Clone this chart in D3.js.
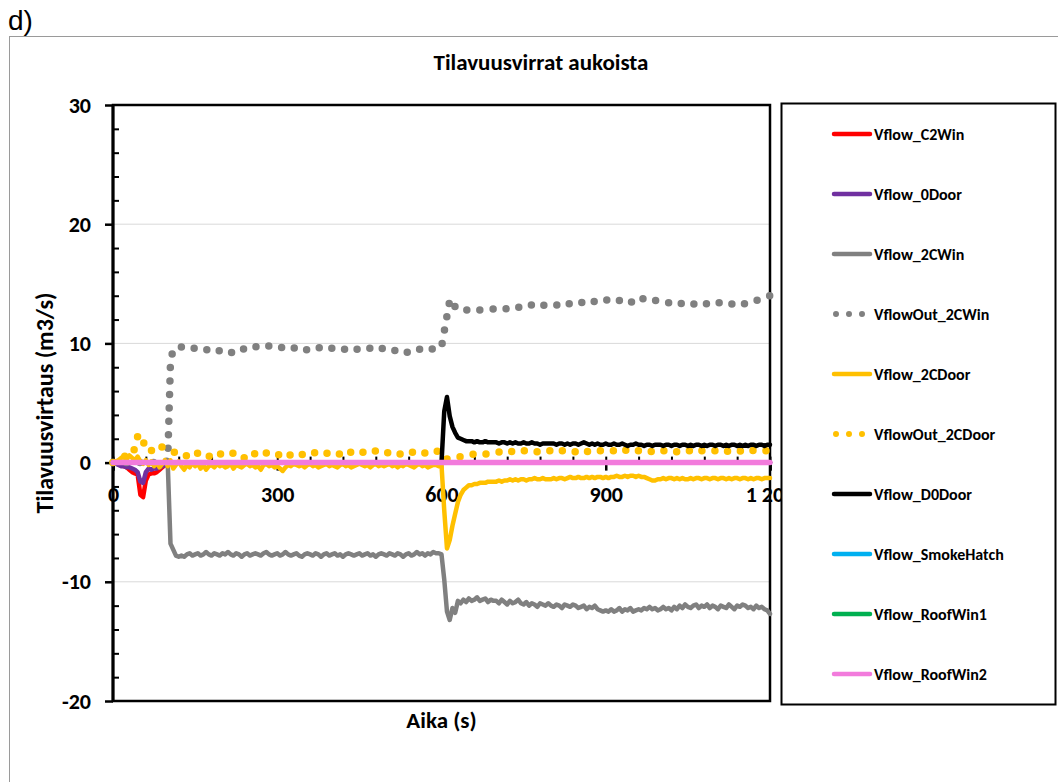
<!DOCTYPE html>
<html><head><meta charset="utf-8">
<script src="https://cdn.jsdelivr.net/npm/d3@7"></script>
<style>
body{margin:0;background:#fff}
svg{display:block}
text{font-family:Carlito, Lato, "Open Sans", sans-serif}
</style>
</head><body>
<svg id="chart" width="1058" height="782"></svg>
<script>
// ---------------- DATA ----------------
const chartTitle = "Tilavuusvirrat aukoista";
const xTitle = "Aika (s)";
const yTitle = "Tilavuusvirtaus (m3/s)";
const yTicks = [-20, -10, 0, 10, 20, 30];
const xTicks = [0, 300, 600, 900, 1200];
const xTickLabels = ["0", "300", "600", "900", "1 200"];

// sampling time (s) for the main series: every 5 s from 0 to 1200
const timeSec = d3.range(0, 1201, 5);
// time for the series that are only non-zero at the start
const earlyTime = [0,5,10,15,20,25,30,35,40,45,50,55,60,65,70,75,80,85,90,95,100,105,110,115,120,125,130,135,140,145,150,1200];
// time for series that stay at zero
const flatTime = [0, 1200];

const vflowC2Win = [0,0,-0.1,-0.2,-0.3,-0.4,-0.6,-0.8,-0.9,-1.0,-2.7,-2.9,-1.5,-1.0,-0.9,-0.9,-0.8,-0.6,-0.4,-0.2,-0.1,0,0,0,0,0,0,0,0,0,0,0];
const vflow0Door = [0,-0.1,-0.2,-0.3,-0.3,-0.4,-0.4,-0.5,-0.6,-0.8,-1.6,-1.7,-0.8,-0.5,-0.6,-0.5,-0.5,-0.4,-0.3,-0.2,-0.1,0,0,0,0,0,0,0,0,0,0,0];

const vflow2CWin = [
  0,0,0,0,0,0,0,0,0,0,0,0,0,0,0,0,0,0,0,0,
  -0.1,-6.8,-7.3,-7.8,-7.9,-7.8,-7.9,-7.7,-7.6,-7.8,-7.7,-7.6,-7.8,-7.7,-7.5,-7.7,-7.8,-7.6,-7.7,-7.8,
  -7.6,-7.7,-7.5,-7.7,-7.8,-7.6,-7.7,-7.9,-7.7,-7.6,-7.8,-7.7,-7.6,-7.7,-7.8,-7.6,-7.5,-7.7,-7.8,-7.7,
  -7.6,-7.8,-7.7,-7.5,-7.7,-7.8,-7.7,-7.6,-7.8,-7.9,-7.7,-7.6,-7.7,-7.8,-7.6,-7.7,-7.9,-7.7,-7.6,-7.8,
  -7.7,-7.6,-7.8,-7.7,-7.9,-7.7,-7.6,-7.7,-7.8,-7.7,-7.6,-7.8,-7.7,-7.6,-7.8,-7.7,-7.9,-7.7,-7.6,-7.7,
  -7.8,-7.6,-7.7,-7.8,-7.6,-7.7,-7.9,-7.7,-7.6,-7.8,-7.7,-7.5,-7.7,-7.6,-7.8,-7.6,-7.7,-7.5,-7.6,-7.6,
  -7.7,-9.8,-12.5,-13.2,-12.2,-12.6,-11.6,-11.8,-11.5,-11.7,-11.4,-11.6,-11.5,-11.3,-11.6,-11.5,-11.4,-11.7,-11.5,-11.6,
  -11.6,-11.8,-11.5,-11.7,-11.9,-11.6,-11.8,-11.7,-11.5,-11.8,-11.9,-11.7,-12.0,-11.8,-11.9,-12.1,-11.8,-11.9,-12.0,-11.8,
  -12.0,-12.1,-11.9,-12.0,-12.2,-11.9,-12.0,-12.1,-11.9,-12.0,-12.2,-12.1,-12.0,-12.3,-12.1,-12.2,-12.0,-12.3,-12.4,-12.5,
  -12.4,-12.5,-12.3,-12.5,-12.4,-12.2,-12.5,-12.3,-12.4,-12.2,-12.5,-12.4,-12.3,-12.4,-12.2,-12.3,-12.1,-12.3,-12.2,-12.4,
  -12.3,-12.1,-12.3,-12.2,-12.4,-12.1,-12.3,-12.0,-12.2,-11.9,-12.1,-12.2,-12.0,-11.9,-12.2,-12.0,-12.1,-11.9,-12.2,-12.0,
  -12.1,-12.3,-12.0,-12.1,-12.2,-11.9,-12.1,-12.3,-12.0,-12.1,-11.9,-12.0,-12.2,-12.1,-12.3,-12.0,-12.2,-12.1,-12.3,-12.4,
  -12.7
];

const vflowOut2CWin = [
  0,0,0,0,0,0,0,0,0,0,0,0,0,0,0,0,0,0,0,0,
  0.2,8.5,9.5,9.6,9.6,9.7,9.6,9.6,9.7,9.6,9.6,9.6,9.5,9.6,9.5,9.4,9.3,9.2,9.3,9.4,
  9.5,9.4,9.3,9.2,9.3,9.2,9.3,9.4,9.6,9.7,9.8,9.8,9.7,9.8,9.8,9.7,9.7,9.8,9.7,9.7,
  9.7,9.6,9.7,9.6,9.5,9.5,9.6,9.7,9.6,9.5,9.4,9.5,9.6,9.7,9.7,9.6,9.7,9.6,9.5,9.6,
  9.6,9.7,9.6,9.6,9.5,9.5,9.4,9.5,9.6,9.5,9.5,9.4,9.5,9.6,9.6,9.5,9.6,9.7,9.6,9.5,
  9.5,9.4,9.5,9.4,9.3,9.2,9.3,9.2,9.3,9.4,9.5,9.6,9.5,9.6,9.5,9.5,9.6,9.5,9.5,9.6,
  9.7,11.0,12.3,13.6,13.0,13.1,13.2,13.0,12.9,12.8,12.8,12.8,12.8,12.7,12.8,12.8,12.8,12.8,12.8,12.9,
  12.9,12.9,12.8,12.9,12.9,13.0,12.9,12.9,13.0,13.1,13.2,13.3,13.3,13.2,13.1,13.0,13.1,13.2,13.2,13.2,
  13.2,13.3,13.2,13.3,13.4,13.3,13.4,13.3,13.4,13.5,13.4,13.4,13.5,13.4,13.5,13.6,13.5,13.4,13.5,13.5,
  13.6,13.7,13.6,13.7,13.7,13.6,13.5,13.4,13.5,13.4,13.6,13.8,13.9,13.8,13.7,13.6,13.6,13.7,13.6,13.6,
  13.6,13.5,13.5,13.4,13.4,13.5,13.4,13.3,13.4,13.3,13.3,13.4,13.3,13.3,13.2,13.3,13.4,13.3,13.2,13.2,
  13.3,13.4,13.4,13.3,13.4,13.4,13.3,13.4,13.3,13.3,13.4,13.3,13.4,13.5,13.5,13.6,13.7,13.8,13.9,14.0,
  14.0
];

const vflow2CDoor = [
  0,0.1,0.2,0.4,0.5,0.3,0.6,0.4,0.2,0.5,0.1,-0.1,0.2,-0.2,0.1,-0.3,0.0,-0.4,-0.1,0.2,
  -0.3,0.2,-0.5,-0.2,0.1,-0.3,-0.6,-0.2,-0.4,0.0,-0.3,-0.1,-0.5,-0.2,-0.6,-0.3,-0.2,-0.4,-0.1,-0.3,
  -0.2,-0.4,-0.3,-0.1,-0.5,-0.2,-0.3,-0.4,-0.2,-0.1,-0.3,-0.2,-0.4,-0.3,-0.6,-0.2,-0.1,-0.3,-0.2,-0.4,
  -0.3,-0.5,-0.7,-0.4,-0.2,-0.3,-0.1,-0.2,-0.3,-0.2,-0.4,-0.2,-0.1,-0.3,-0.2,-0.4,-0.3,-0.2,-0.1,-0.3,
  -0.2,-0.3,-0.4,-0.2,-0.1,-0.3,-0.2,-0.4,-0.3,-0.2,-0.1,-0.2,-0.3,-0.2,-0.4,-0.2,-0.1,-0.3,-0.2,-0.3,
  -0.2,-0.1,-0.3,-0.2,-0.4,-0.2,-0.3,-0.1,-0.2,-0.3,-0.4,-0.2,-0.1,-0.3,-0.2,-0.4,-0.3,-0.2,-0.2,-0.3,
  -0.2,-4.0,-7.2,-6.5,-5.3,-4.3,-3.3,-2.7,-2.3,-2.1,-1.9,-1.9,-1.8,-1.8,-1.7,-1.7,-1.7,-1.6,-1.6,-1.6,
  -1.6,-1.5,-1.6,-1.5,-1.5,-1.4,-1.5,-1.4,-1.5,-1.4,-1.4,-1.5,-1.4,-1.4,-1.3,-1.4,-1.4,-1.3,-1.4,-1.4,
  -1.4,-1.3,-1.4,-1.3,-1.3,-1.4,-1.3,-1.2,-1.3,-1.3,-1.2,-1.3,-1.3,-1.2,-1.3,-1.2,-1.3,-1.2,-1.2,-1.3,
  -1.2,-1.3,-1.2,-1.2,-1.1,-1.2,-1.2,-1.1,-1.2,-1.1,-1.1,-1.2,-1.1,-1.2,-1.2,-1.3,-1.4,-1.5,-1.5,-1.4,
  -1.4,-1.3,-1.4,-1.3,-1.3,-1.4,-1.3,-1.4,-1.3,-1.4,-1.4,-1.3,-1.4,-1.3,-1.3,-1.4,-1.3,-1.3,-1.4,-1.3,
  -1.3,-1.4,-1.3,-1.3,-1.4,-1.3,-1.4,-1.3,-1.3,-1.4,-1.3,-1.3,-1.4,-1.3,-1.4,-1.3,-1.3,-1.4,-1.3,-1.3,
  -1.3
];

const vflowOut2CDoor = [
  0,0.1,0.2,0.3,0.5,0.6,0.9,0.8,1.2,2.2,1.6,1.8,1.2,0.9,1.0,1.3,1.2,1.4,1.3,1.2,
  1.1,1.0,0.9,0.8,0.8,0.6,0.5,0.6,0.4,0.5,0.7,0.8,0.7,0.8,0.6,0.5,0.7,0.8,0.6,0.7,
  0.8,0.7,0.6,0.7,0.8,0.7,0.5,0.6,0.4,0.5,0.8,0.9,0.7,0.6,0.8,0.7,0.8,0.9,0.8,0.7,
  0.6,0.7,0.8,0.6,0.5,0.7,0.8,0.9,0.8,0.7,0.6,0.7,0.8,0.9,0.8,0.7,0.6,0.7,0.8,0.7,
  0.8,0.9,0.8,0.7,0.6,0.8,0.7,0.9,0.8,0.7,0.8,0.9,0.8,0.7,0.8,0.9,1.0,0.9,0.8,0.7,
  0.8,0.9,0.8,0.9,0.8,0.7,0.8,0.9,1.0,0.9,0.8,0.9,1.0,0.9,0.8,0.9,1.0,1.1,1.0,0.9,
  0.9,0.6,0.3,0.3,0.4,0.4,0.5,0.5,0.6,0.6,0.6,0.7,0.7,0.7,0.7,0.8,0.7,0.8,0.8,0.8,
  0.8,0.9,0.8,0.9,0.9,1.0,0.9,0.9,1.0,0.9,1.0,1.0,0.9,1.0,1.0,0.9,1.0,1.0,1.1,1.0,
  1.0,0.9,1.0,1.1,1.0,1.0,0.9,1.0,1.0,0.9,1.0,1.1,1.0,0.9,1.0,1.0,0.9,0.9,1.0,1.0,
  1.0,1.1,1.0,1.0,1.1,1.2,1.1,1.0,1.1,1.0,1.0,0.9,1.0,1.0,0.9,1.0,1.0,0.9,1.0,1.0,
  0.9,1.0,1.0,0.9,0.9,1.0,0.9,1.0,1.0,0.9,1.0,1.0,0.9,1.0,0.9,1.0,1.0,0.9,1.0,1.0,
  1.0,0.9,1.0,1.0,0.9,1.0,1.0,1.1,1.0,1.0,0.9,1.0,1.0,1.1,1.0,1.0,1.1,1.0,1.0,1.0,
  1.0
];

const vflowD0Door = [
  0,0,0,0,0,0,0,0,0,0,0,0,0,0,0,0,0,0,0,0,
  0,0,0,0,0,0,0,0,0,0,0,0,0,0,0,0,0,0,0,0,
  0,0,0,0,0,0,0,0,0,0,0,0,0,0,0,0,0,0,0,0,
  0,0,0,0,0,0,0,0,0,0,0,0,0,0,0,0,0,0,0,0,
  0,0,0,0,0,0,0,0,0,0,0,0,0,0,0,0,0,0,0,0,
  0,0,0,0,0,0,0,0,0,0,0,0,0,0,0,0,0,0,0,0,
  0.0,4.3,5.5,3.9,3.0,2.5,2.1,2.0,1.9,1.8,1.8,1.8,1.7,1.8,1.7,1.7,1.8,1.7,1.7,1.7,
  1.7,1.6,1.7,1.7,1.6,1.7,1.6,1.7,1.6,1.6,1.7,1.6,1.6,1.7,1.6,1.6,1.5,1.6,1.6,1.6,
  1.6,1.6,1.5,1.6,1.6,1.5,1.6,1.5,1.6,1.6,1.5,1.6,1.7,1.6,1.5,1.6,1.5,1.6,1.5,1.5,
  1.6,1.5,1.5,1.6,1.5,1.5,1.6,1.5,1.4,1.5,1.5,1.6,1.5,1.5,1.4,1.5,1.5,1.4,1.5,1.5,
  1.5,1.4,1.5,1.5,1.4,1.5,1.5,1.4,1.5,1.5,1.4,1.5,1.4,1.5,1.5,1.4,1.5,1.4,1.5,1.5,
  1.4,1.5,1.5,1.4,1.5,1.4,1.5,1.5,1.4,1.5,1.4,1.5,1.4,1.5,1.5,1.4,1.5,1.5,1.4,1.5,
  1.5
];

const vflowSmokeHatch = [0, 0];
const vflowRoofWin1 = [0, 0];
const vflowRoofWin2 = [0, 0];

const seriesNames = ["Vflow_C2Win","Vflow_0Door","Vflow_2CWin","VflowOut_2CWin","Vflow_2CDoor","VflowOut_2CDoor","Vflow_D0Door","Vflow_SmokeHatch","Vflow_RoofWin1","Vflow_RoofWin2"];
const seriesColors = ["#FF0000","#7030A0","#808080","#808080","#FFC000","#FFC000","#000000","#00B0F0","#00B050","#F27BDC"];
const seriesDotted = [false,false,false,true,false,true,false,false,false,false];
const seriesTimes = [earlyTime, earlyTime, timeSec, timeSec, timeSec, timeSec, timeSec, flatTime, flatTime, flatTime];
const seriesValues = [vflowC2Win, vflow0Door, vflow2CWin, vflowOut2CWin, vflow2CDoor, vflowOut2CDoor, vflowD0Door, vflowSmokeHatch, vflowRoofWin1, vflowRoofWin2];

// ---------------- DRAW ----------------
const svg = d3.select("#chart");
const L = 113, R = 770, T = 105, B = 701;
const x = d3.scaleLinear().domain([0, 1200]).range([L, R]);
const y = d3.scaleLinear().domain([-20, 30]).range([B, T]);

// outer frame & panel label
svg.append("rect").attr("x", 9.5).attr("y", 36.5).attr("width", 1200).attr("height", 900)
  .attr("fill", "#fff").attr("stroke", "#9a9a9a").attr("stroke-width", 1);
svg.append("text").attr("x", 8).attr("y", 30).text("d)")
  .style("font-family", "'Liberation Sans', Arial, sans-serif").style("font-size", "28px").attr("fill", "#000");

// title
svg.append("text").attr("x", 541).attr("y", 70).attr("text-anchor", "middle")
  .style("font-size", "23px").style("font-weight", "bold").text(chartTitle);

// gridlines
svg.append("g").selectAll("line").data(yTicks.filter(d => d !== 0)).join("line")
  .attr("x1", L).attr("x2", R).attr("y1", d => y(d)).attr("y2", d => y(d))
  .attr("stroke", "#d9d9d9").attr("stroke-width", 1);

// plot border
svg.append("rect").attr("x", L).attr("y", T).attr("width", R - L).attr("height", B - T)
  .attr("fill", "none").attr("stroke", "#000").attr("stroke-width", 2.5);

// y axis: major ticks outside, minor inside
const yMinor = d3.range(-20, 31, 2).filter(d => d % 10 !== 0);
const yAxis = svg.append("g").attr("transform", `translate(${L},0)`)
  .call(d3.axisLeft(y).tickValues(yTicks).tickSize(8).tickPadding(14).tickFormat(d => String(d)));
yAxis.select(".domain").remove();
yAxis.selectAll("line").attr("stroke", "#000").attr("stroke-width", 2.5);
yAxis.selectAll("text").style("font-size", "22px").style("font-weight", "bold").attr("fill", "#000");
const yAxisMinor = svg.append("g").attr("transform", `translate(${L},0)`)
  .call(d3.axisRight(y).tickValues(yMinor).tickSize(6).tickFormat(""));
yAxisMinor.select(".domain").remove();
yAxisMinor.selectAll("line").attr("stroke", "#000").attr("stroke-width", 2);
svg.append("line").attr("x1", L).attr("x2", L).attr("y1", T).attr("y2", B)
  .attr("stroke", "#000").attr("stroke-width", 3);

// x axis at y = 0
const xMinor = d3.range(0, 1201, 60);
const xAxisMinor = svg.append("g").attr("transform", `translate(0,${y(0)})`)
  .call(d3.axisTop(x).tickValues(xMinor).tickSize(6).tickFormat(""));
xAxisMinor.select(".domain").remove();
xAxisMinor.selectAll("line").attr("stroke", "#000").attr("stroke-width", 2);
const xAxis = svg.append("g").attr("transform", `translate(0,${y(0)})`)
  .call(d3.axisBottom(x).tickValues(xTicks).tickSize(8).tickPadding(16)
    .tickFormat((d, i) => xTickLabels[i]));
xAxis.select(".domain").attr("stroke", "#000").attr("stroke-width", 2.5);
xAxis.selectAll("line").attr("stroke", "#000").attr("stroke-width", 2.5);
xAxis.selectAll("text").style("font-size", "22px").style("font-weight", "bold").attr("fill", "#000");

// axis titles
svg.append("text").attr("transform", `translate(53,${(T + B) / 2}) rotate(-90)`)
  .attr("text-anchor", "middle").style("font-size", "24px").style("font-weight", "bold").text(yTitle);
svg.append("text").attr("x", (L + R) / 2).attr("y", 728).attr("text-anchor", "middle")
  .style("font-size", "23px").style("font-weight", "bold").text(xTitle);

// series
const line = d3.line().x(d => x(d[0])).y(d => y(d[1]));
const gSeries = svg.append("g");
seriesNames.forEach((name, i) => {
  const pts = seriesValues[i].map((v, k) => [seriesTimes[i][k], v]);
  const p = gSeries.append("path").datum(pts).attr("d", line)
    .attr("fill", "none").attr("stroke", seriesColors[i])
    .attr("stroke-linejoin", "round").attr("stroke-linecap", "round");
  if (seriesDotted[i]) {
    p.attr("stroke-width", 7.5).attr("stroke-dasharray", "0 13.5");
  } else {
    p.attr("stroke-width", i === 9 ? 5.5 : 4.5);
  }
});

// legend
const lg = svg.append("g");
lg.append("rect").attr("x", 781.5).attr("y", 103.5).attr("width", 274).attr("height", 601)
  .attr("fill", "#fff").attr("stroke", "#000").attr("stroke-width", 2);
seriesNames.forEach((name, i) => {
  const cy = 134 + 60 * i;
  const l = lg.append("line").attr("x1", seriesDotted[i] ? 836 : 834).attr("x2", 870)
    .attr("y1", cy).attr("y2", cy).attr("stroke", seriesColors[i]).attr("stroke-linecap", "round");
  if (seriesDotted[i]) l.attr("stroke-width", 6).attr("stroke-dasharray", "0 13");
  else l.attr("stroke-width", 4.5);
  lg.append("text").attr("x", 874).attr("y", cy).attr("dy", "0.35em")
    .style("font-size", "16px").style("font-weight", "bold").text(name);
});
</script>
</body></html>
